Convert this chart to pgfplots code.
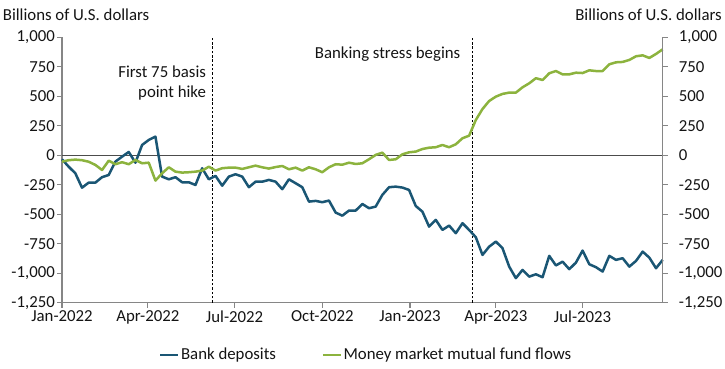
\documentclass[border=0pt]{standalone}
\usepackage{pgfplots}
\usepackage{pgfplotstable}
\pgfplotsset{compat=1.18}
\usepackage{fontspec}
\setmainfont{Carlito}
\definecolor{bankblue}{RGB}{26,86,116}
\definecolor{mmgreen}{RGB}{140,179,62}
\definecolor{axgray}{RGB}{134,134,134}
\definecolor{txt}{RGB}{20,20,20}

\pgfplotstableread{
w bank mmf
0 -34 -54
1 -97 -42
2 -153 -37
3 -275 -42
4 -232 -55
5 -232 -82
6 -186 -125
7 -167 -46
8 -54 -76
9 -12 -59
10 28 -76
11 -63 -40
12 87 -68
13 130 -63
14 158 -215
15 -181 -153
16 -204 -102
17 -186 -139
18 -229 -147
19 -229 -144
20 -252 -139
21 -110 -130
22 -204 -97
23 -175 -130
24 -258 -110
25 -181 -105
26 -161 -105
27 -181 -116
28 -271 -102
29 -224 -88
30 -224 -102
31 -209 -113
32 -224 -100
33 -288 -91
34 -204 -119
35 -237 -105
36 -271 -130
37 -393 -102
38 -387 -119
39 -398 -144
40 -384 -102
41 -486 -76
42 -512 -80
43 -469 -63
44 -469 -74
45 -413 -68
46 -449 -34
47 -435 3
48 -336 22
49 -271 -40
50 -266 -34
51 -274 8
52 -294 25
53 -430 31
54 -478 53
55 -605 64
56 -548 68
57 -633 87
58 -596 68
59 -661 93
60 -576 144
61 -633 166
62 -695 299
63 -845 392
64 -775 460
65 -732 497
66 -788 520
67 -944 531
68 -1042 531
69 -972 576
70 -1029 610
71 -1009 653
72 -1034 638
73 -853 695
74 -934 714
75 -902 686
76 -966 686
77 -910 700
78 -808 697
79 -924 720
80 -949 714
81 -986 714
82 -853 771
83 -887 788
84 -873 791
85 -944 808
86 -896 839
87 -817 847
88 -868 825
89 -958 859
90 -887 898
}\flows

\begin{document}
\fontsize{16.8pt}{20.6pt}\selectfont
\begin{tikzpicture}[x=1pt,y=1pt]
\useasboundingbox (0pt,0pt) rectangle (725pt,369pt);
\pgfplotsset{
  base/.style={
    at={(62pt,66.3pt)}, anchor=south west,
    scale only axis, width=600.7pt, height=265.4pt,
    xmin=0, xmax=90, ymin=-1250, ymax=1000,
    ytick={-1250,-1000,-750,-500,-250,0,250,500,750,1000},
    yticklabels={{-1,250},{-1,000},-750,-500,-250,0,250,500,750,{1,000}},
    tick align=outside, major tick length=5pt,
    axis line style={axgray, line width=1.3pt},
    tick style={axgray, line width=1.1pt},
    ticklabel style={text=txt},
    /pgf/number format/assume math mode=true,
  }
}
\begin{axis}[base,
  axis x line*=bottom, axis y line*=left,
  xtick={0,12.86,25.86,39,52.14,65,78},
  xticklabels={Jan-2022,Apr-2022,Jul-2022,Oct-2022,Jan-2023,Apr-2023,Jul-2023},
  xticklabel style={inner sep=2pt, yshift=-1pt},
  yticklabel style={inner sep=1pt, xshift=-1pt},
  clip=false,
  legend style={at={(0.506,-0.197)}, anchor=center, draw=none, fill=none,
    legend columns=2, font=\fontsize{16.8pt}{20pt}\selectfont,
    nodes={inner sep=1.5pt, text=txt},
    /tikz/every even column/.append style={column sep=44pt}},
  legend image code/.code={\draw[#1] (0pt,0pt) -- (18pt,0pt);},
]
\addplot[forget plot, draw=black!70, line width=1.2pt] coordinates {(0,0) (90,0)};
\addplot[forget plot, black, line width=0.9pt, dash pattern=on 2.5pt off 1.8pt] coordinates {(22.5,-1250) (22.5,1000)};
\addplot[forget plot, black, line width=0.9pt, dash pattern=on 2.5pt off 1.8pt] coordinates {(61.5,-1250) (61.5,1000)};
\addplot[bankblue, line width=2.5pt, line join=round] table[x=w, y=bank] {\flows};
\addlegendentry{Bank deposits}
\addplot[mmgreen, line width=2.5pt, line join=round] table[x=w, y=mmf] {\flows};
\addlegendentry{Money market mutual fund flows}
\node[anchor=east, align=right, inner sep=0pt, text=txt] at (axis cs:21.6,612) {First 75 basis\\point hike};
\node[anchor=east, inner sep=0pt, text=txt] at (axis cs:59.7,856) {Banking stress begins};
\end{axis}
\begin{axis}[base,
  axis x line=none, axis y line*=right,
  yticklabel style={inner sep=1pt, xshift=10pt, anchor=west},
]
\end{axis}
\node[anchor=west, inner sep=0pt, text=txt] at (2.7pt,354pt) {Billions of U.S. dollars};
\node[anchor=east, inner sep=0pt, text=txt] at (722pt,354pt) {Billions of U.S. dollars};
\end{tikzpicture}
\end{document}
